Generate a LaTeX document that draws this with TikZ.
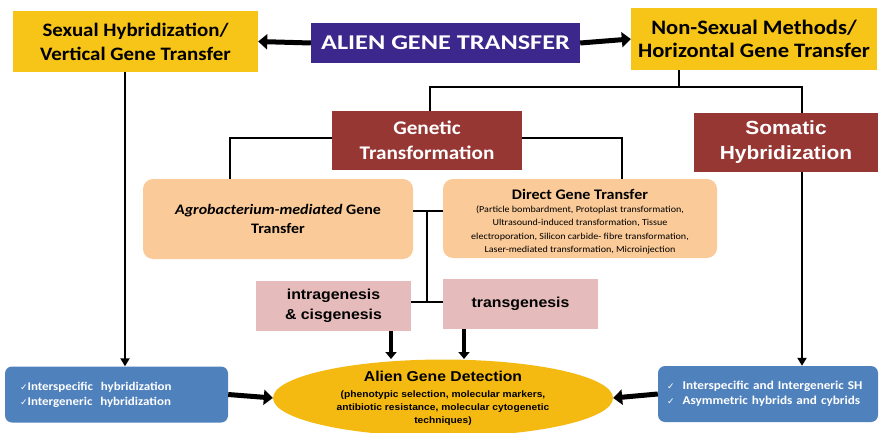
\documentclass[tikz,border=0pt]{standalone}
\usepackage{fontspec}
\setmainfont[FakeStretch=1.1]{Carlito}
\newfontfamily\arialf[FakeStretch=1.1]{Liberation Sans}
\newfontfamily\alienf[FakeStretch=1.25]{Carlito}
\newfontfamily\dvf{DejaVu Sans}
\usetikzlibrary{arrows.meta,shapes.geometric}
\definecolor{ybox}{RGB}{247,196,24}
\definecolor{yell}{RGB}{245,186,18}
\definecolor{purp}{RGB}{60,40,140}
\definecolor{dred}{RGB}{150,55,52}
\definecolor{peach}{RGB}{250,202,152}
\definecolor{pinkb}{RGB}{230,187,187}
\definecolor{blueb}{RGB}{79,129,189}
\newcommand{\ckm}{{\dvf\fontsize{9}{15}\selectfont\mdseries ✓}}
\tikzset{
  ybx/.style={fill=ybox, inner sep=0pt, align=center},
  rbx/.style={fill=dred, text=white, inner sep=0pt, align=center},
  pbx/.style={fill=peach, rounded corners=10pt, inner sep=0pt, align=center},
  kbx/.style={fill=pinkb, inner sep=0pt, align=center, font=\arialf\fontsize{14.4}{20}\selectfont\bfseries},
  bbx/.style={fill=blueb, rounded corners=7pt, inner sep=0pt, text=white, align=left},
  conn/.style={line width=2.5pt},
  bigarr/.style={line width=5pt, -{Triangle[length=9pt,width=15pt]}},
  midarr/.style={line width=4pt, -{Triangle[length=7pt,width=11pt]}},
  thinarr/.style={line width=2pt, -{Triangle[length=8pt,width=9pt]}},
}
\begin{document}
\begin{tikzpicture}[x=1pt,y=-1pt]
\useasboundingbox (0,0) rectangle (880,433);
% top row
\node[ybx, minimum width=245pt, minimum height=61pt, font=\fontsize{19}{24}\selectfont\bfseries] (sex) at (135.5,41.5) {Sexual Hybridization/\\Vertical Gene Transfer};
\node[fill=purp, text=white, minimum width=269pt, minimum height=40pt, inner sep=0pt, font=\alienf\fontsize{21}{24}\selectfont\bfseries] (alien) at (445.5,43) {ALIEN GENE TRANSFER};
\node[ybx, minimum width=246pt, minimum height=62pt, font=\fontsize{20.5}{23}\selectfont\bfseries] (nonsex) at (754,39) {Non-Sexual Methods/\\Horizontal Gene Transfer};
% second row
\node[rbx, minimum width=190pt, minimum height=59pt, font=\fontsize{19.3}{25}\selectfont\bfseries] (gen) at (427,140.5) {Genetic\\Transformation};
\node[rbx, minimum width=184pt, minimum height=59pt, font=\arialf\fontsize{19}{25}\selectfont\bfseries] (som) at (786,142.5) {Somatic\\Hybridization};
% third row
\node[pbx, minimum width=270pt, minimum height=80pt, font=\fontsize{14.5}{19}\selectfont\bfseries] (agro) at (278,219) {\textit{Agrobacterium-mediated} Gene\\Transfer};
\node[pbx, minimum width=274pt, minimum height=79pt] (dir) at (580,218.5) {};
\node[inner sep=0pt, align=center, font=\fontsize{9.15}{13.3}\selectfont] (dirt) at (580,221.5) {\fontsize{14.6}{13.3}\selectfont\bfseries Direct Gene Transfer\\
\fontsize{9.15}{13.3}\selectfont\mdseries (Particle bombardment, Protoplast transformation,\\Ultrasound-induced transformation, Tissue\\electroporation, Silicon carbide- fibre transformation,\\Laser-mediated transformation, Microinjection};
% fourth row
\node[kbx, minimum width=155pt, minimum height=50pt] (intra) at (333.5,306) {intragenesis\\\& cisgenesis};
\node[kbx, minimum width=155pt, minimum height=50pt] (trans) at (520.5,304) {transgenesis};
% bottom row
\node[ellipse, fill=yell, minimum width=340pt, minimum height=76pt, inner sep=0pt, align=center, font=\arialf\bfseries\fontsize{9.3}{12.7}\selectfont] (det) at (443,398) {\fontsize{14.3}{17}\selectfont Alien Gene Detection\\[4pt]
\fontsize{9.3}{12.7}\selectfont (phenotypic selection, molecular markers,\\antibiotic resistance, molecular cytogenetic\\techniques)};
\node[bbx, minimum width=223pt, minimum height=56pt, text width=193pt, font=\fontsize{11.8}{15}\selectfont\bfseries] (lb) at (116.5,394.5) {\ckm Interspecific\ \ hybridization\\\ckm Intergeneric\ \ hybridization};
\node[bbx, minimum width=220pt, minimum height=56pt, text width=202pt, font=\fontsize{12}{15}\selectfont\bfseries] (rb) at (768,394) {\ckm\ \ Interspecific and Intergeneric SH\\\ckm\ \ Asymmetric hybrids and cybrids};
% helper coordinates
\coordinate (h0) at (679,87);
\coordinate (h1) at (430,87);
\coordinate (h2) at (802,87);
\coordinate (ga) at (230,179);
\coordinate (gd) at (622,179);
\coordinate (j1) at (427,211);
\coordinate (j2) at (427,302);
\coordinate (s1) at (125,72);
\coordinate (a1) at (391,331);
\coordinate (a2) at (464,329);
\coordinate (e1) at (391,359);
\coordinate (e2) at (464,359);
\coordinate (y138) at (0,138);
% connectors
\draw[bigarr] (alien.west) -- (sex.east);
\draw[bigarr] (alien.east) -- (nonsex.west);
\draw[conn] (h0 |- nonsex.south) -- (h0);
\draw[conn] (h1 |- gen.north) -- (h1) -- (h2) -- (h2 |- som.north);
\draw[conn] (gen.west |- y138) -| (ga);
\draw[conn] (gen.east |- y138) -| (gd);
\draw[conn] (agro.east |- j1) -- (dir.west |- j1);
\draw[conn] (j1) -- (j2);
\draw[conn] (intra.east |- j2) -- (trans.west |- j2);
\draw[midarr] (a1) -- (e1);
\draw[midarr] (a2) -- (e2);
\draw[thinarr] (s1) -- (s1 |- lb.north);
\draw[thinarr] (h2 |- som.south) -- (h2 |- rb.north);
\draw[bigarr] (lb.east) -- (det.west);
\draw[bigarr] (rb.west) -- (det.east);
\end{tikzpicture}
\end{document}
